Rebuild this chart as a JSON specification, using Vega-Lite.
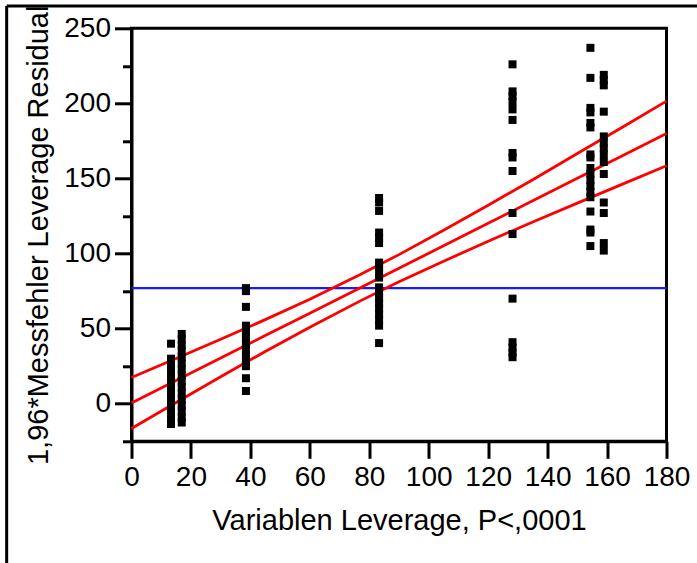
{
  "$schema": "https://vega.github.io/schema/vega-lite/v6.json",
  "width": 535,
  "height": 413,
  "autosize": {"type": "none"},
  "padding": {"left": 131.5, "top": 28.3, "right": 30.5, "bottom": 121.7},
  "background": "white",
  "config": {
    "view": {"stroke": "black", "strokeWidth": 3},
    "font": "Liberation Sans",
    "axis": {
      "domainColor": "black", "domainWidth": 3,
      "tickColor": "black", "tickWidth": 3,
      "labelColor": "black", "titleColor": "black",
      "labelFont": "Liberation Sans", "titleFont": "Liberation Sans",
      "labelFontSize": 28, "titleFontSize": 29, "titleFontWeight": "normal",
      "grid": false
    }
  },
  "datasets": {
    "points": [
      {"x": 13.3, "y": 40}, {"x": 13.3, "y": 30}, {"x": 13.3, "y": 26}, {"x": 13.3, "y": 22}, {"x": 13.3, "y": 18}, {"x": 13.3, "y": 14}, {"x": 13.3, "y": 10}, {"x": 13.3, "y": 6}, {"x": 13.3, "y": 2}, {"x": 13.3, "y": -2}, {"x": 13.3, "y": -6}, {"x": 13.3, "y": -10}, {"x": 13.3, "y": -13.5},
      {"x": 16.9, "y": 46.5}, {"x": 16.9, "y": 43}, {"x": 16.9, "y": 39}, {"x": 16.9, "y": 35}, {"x": 16.9, "y": 31}, {"x": 16.9, "y": 27}, {"x": 16.9, "y": 23}, {"x": 16.9, "y": 19}, {"x": 16.9, "y": 15}, {"x": 16.9, "y": 11}, {"x": 16.9, "y": 7}, {"x": 16.9, "y": 3}, {"x": 16.9, "y": -1}, {"x": 16.9, "y": -5}, {"x": 16.9, "y": -9}, {"x": 16.9, "y": -12.5},
      {"x": 38.5, "y": 77}, {"x": 38.5, "y": 75}, {"x": 38.5, "y": 64.5}, {"x": 38.5, "y": 52}, {"x": 38.5, "y": 48}, {"x": 38.5, "y": 44}, {"x": 38.5, "y": 40}, {"x": 38.5, "y": 36}, {"x": 38.5, "y": 32}, {"x": 38.5, "y": 28}, {"x": 38.5, "y": 25}, {"x": 38.5, "y": 17}, {"x": 38.5, "y": 8.5},
      {"x": 83.3, "y": 137}, {"x": 83.3, "y": 134}, {"x": 83.3, "y": 128.4}, {"x": 83.3, "y": 114}, {"x": 83.3, "y": 110.5}, {"x": 83.3, "y": 107}, {"x": 83.3, "y": 94}, {"x": 83.3, "y": 91}, {"x": 83.3, "y": 87.5}, {"x": 83.3, "y": 84}, {"x": 83.3, "y": 77.5}, {"x": 83.3, "y": 74}, {"x": 83.3, "y": 70.5}, {"x": 83.3, "y": 67}, {"x": 83.3, "y": 63.5}, {"x": 83.3, "y": 60}, {"x": 83.3, "y": 56}, {"x": 83.3, "y": 52}, {"x": 83.3, "y": 40.4},
      {"x": 128.2, "y": 226}, {"x": 128.2, "y": 208}, {"x": 128.2, "y": 205}, {"x": 128.2, "y": 201}, {"x": 128.2, "y": 196}, {"x": 128.2, "y": 189}, {"x": 128.2, "y": 167}, {"x": 128.2, "y": 164}, {"x": 128.2, "y": 155}, {"x": 128.2, "y": 127}, {"x": 128.2, "y": 113}, {"x": 128.2, "y": 70}, {"x": 128.2, "y": 41}, {"x": 128.2, "y": 37.5}, {"x": 128.2, "y": 34}, {"x": 128.2, "y": 31},
      {"x": 154.4, "y": 237}, {"x": 154.4, "y": 217}, {"x": 154.4, "y": 197}, {"x": 154.4, "y": 194}, {"x": 154.4, "y": 187}, {"x": 154.4, "y": 184}, {"x": 154.4, "y": 166}, {"x": 154.4, "y": 164}, {"x": 154.4, "y": 157}, {"x": 154.4, "y": 153}, {"x": 154.4, "y": 149}, {"x": 154.4, "y": 145}, {"x": 154.4, "y": 141}, {"x": 154.4, "y": 137.5}, {"x": 154.4, "y": 128}, {"x": 154.4, "y": 116}, {"x": 154.4, "y": 114}, {"x": 154.4, "y": 105},
      {"x": 158.9, "y": 219}, {"x": 158.9, "y": 215.5}, {"x": 158.9, "y": 212}, {"x": 158.9, "y": 194.5}, {"x": 158.9, "y": 178}, {"x": 158.9, "y": 174}, {"x": 158.9, "y": 170}, {"x": 158.9, "y": 166}, {"x": 158.9, "y": 161}, {"x": 158.9, "y": 153}, {"x": 158.9, "y": 134}, {"x": 158.9, "y": 127}, {"x": 158.9, "y": 107}, {"x": 158.9, "y": 102}
    ],
    "lines": [
      {"x": 0, "band": "fit", "y": 0.5}, {"x": 15, "band": "fit", "y": 15.5}, {"x": 30, "band": "fit", "y": 30.4}, {"x": 45, "band": "fit", "y": 45.4}, {"x": 60, "band": "fit", "y": 60.3}, {"x": 77, "band": "fit", "y": 77.3}, {"x": 90, "band": "fit", "y": 90.2}, {"x": 105, "band": "fit", "y": 105.2}, {"x": 120, "band": "fit", "y": 120.2}, {"x": 135, "band": "fit", "y": 135.1}, {"x": 150, "band": "fit", "y": 150.1}, {"x": 165, "band": "fit", "y": 165}, {"x": 180, "band": "fit", "y": 180},
      {"x": 0, "band": "upper", "y": 17.5}, {"x": 15, "band": "upper", "y": 30.1}, {"x": 30, "band": "upper", "y": 42.9}, {"x": 45, "band": "upper", "y": 56}, {"x": 60, "band": "upper", "y": 69.6}, {"x": 77, "band": "upper", "y": 86}, {"x": 90, "band": "upper", "y": 99.3}, {"x": 105, "band": "upper", "y": 115.5}, {"x": 120, "band": "upper", "y": 132.2}, {"x": 135, "band": "upper", "y": 149.2}, {"x": 150, "band": "upper", "y": 166.6}, {"x": 165, "band": "upper", "y": 183.9}, {"x": 180, "band": "upper", "y": 201.5},
      {"x": 0, "band": "lower", "y": -16.5}, {"x": 15, "band": "lower", "y": 0.8}, {"x": 30, "band": "lower", "y": 18}, {"x": 45, "band": "lower", "y": 34.8}, {"x": 60, "band": "lower", "y": 51}, {"x": 77, "band": "lower", "y": 68.5}, {"x": 90, "band": "lower", "y": 81.2}, {"x": 105, "band": "lower", "y": 94.9}, {"x": 120, "band": "lower", "y": 108.2}, {"x": 135, "band": "lower", "y": 121}, {"x": 150, "band": "lower", "y": 133.6}, {"x": 165, "band": "lower", "y": 146.1}, {"x": 180, "band": "lower", "y": 158.5}
    ],
    "mean": [{"mean": 77}]
  },
  "layer": [
    {
      "data": {"name": "mean"},
      "mark": {"type": "rule", "color": "#1a1aff", "strokeWidth": 2.2},
      "encoding": {
        "y": {"field": "mean", "type": "quantitative", "scale": {"domain": [-25, 250], "nice": false, "zero": false}, "axis": null}
      }
    },
    {
      "data": {"name": "lines"},
      "mark": {"type": "line", "color": "#ff0000", "strokeWidth": 2.8},
      "encoding": {
        "x": {"field": "x", "type": "quantitative", "scale": {"domain": [0, 180], "nice": false, "zero": false}, "axis": null},
        "y": {"field": "y", "type": "quantitative", "scale": {"domain": [-25, 250], "nice": false, "zero": false},
          "axis": {"orient": "left", "values": [-25, 25, 75, 125, 175, 225], "labels": false, "title": null, "tickSize": 9, "domain": false}},
        "detail": {"field": "band"}
      }
    },
    {
      "data": {"name": "points"},
      "mark": {"type": "square", "size": 64, "filled": true, "color": "black", "opacity": 1},
      "encoding": {
        "x": {"field": "x", "type": "quantitative", "scale": {"domain": [0, 180], "nice": false, "zero": false},
          "axis": {"orient": "bottom", "values": [0, 20, 40, 60, 80, 100, 120, 140, 160, 180], "tickSize": 17, "labelPadding": 5, "labelFlush": false, "labelOverlap": false, "title": "Variablen Leverage, P<,0001", "titlePadding": 15}},
        "y": {"field": "y", "type": "quantitative", "scale": {"domain": [-25, 250], "nice": false, "zero": false},
          "axis": {"orient": "left", "values": [0, 50, 100, 150, 200, 250], "tickSize": 17, "labelPadding": 4, "labelFlush": false, "labelOverlap": false, "title": "1,96*Messfehler Leverage Residual", "titlePadding": 10}}
      }
    },
    {
      "data": {"name": "mean"},
      "mark": {"type": "rule", "color": "black", "strokeWidth": 3, "clip": false},
      "encoding": {
        "x": {"datum": -42, "type": "quantitative", "scale": {"domain": [0, 180], "nice": false, "zero": false}, "axis": null},
        "x2": {"datum": 200},
        "y": {"datum": 264.8, "type": "quantitative", "scale": {"domain": [-25, 250], "nice": false, "zero": false}, "axis": null}
      }
    },
    {
      "data": {"name": "mean"},
      "mark": {"type": "rule", "color": "black", "strokeWidth": 3, "clip": false},
      "encoding": {
        "x": {"datum": -42, "type": "quantitative", "scale": {"domain": [0, 180], "nice": false, "zero": false}, "axis": null},
        "y": {"datum": 264.8, "type": "quantitative", "scale": {"domain": [-25, 250], "nice": false, "zero": false}, "axis": null},
        "y2": {"datum": -110}
      }
    }
  ],
  "resolve": {"axis": {"x": "independent", "y": "independent"}}
}
